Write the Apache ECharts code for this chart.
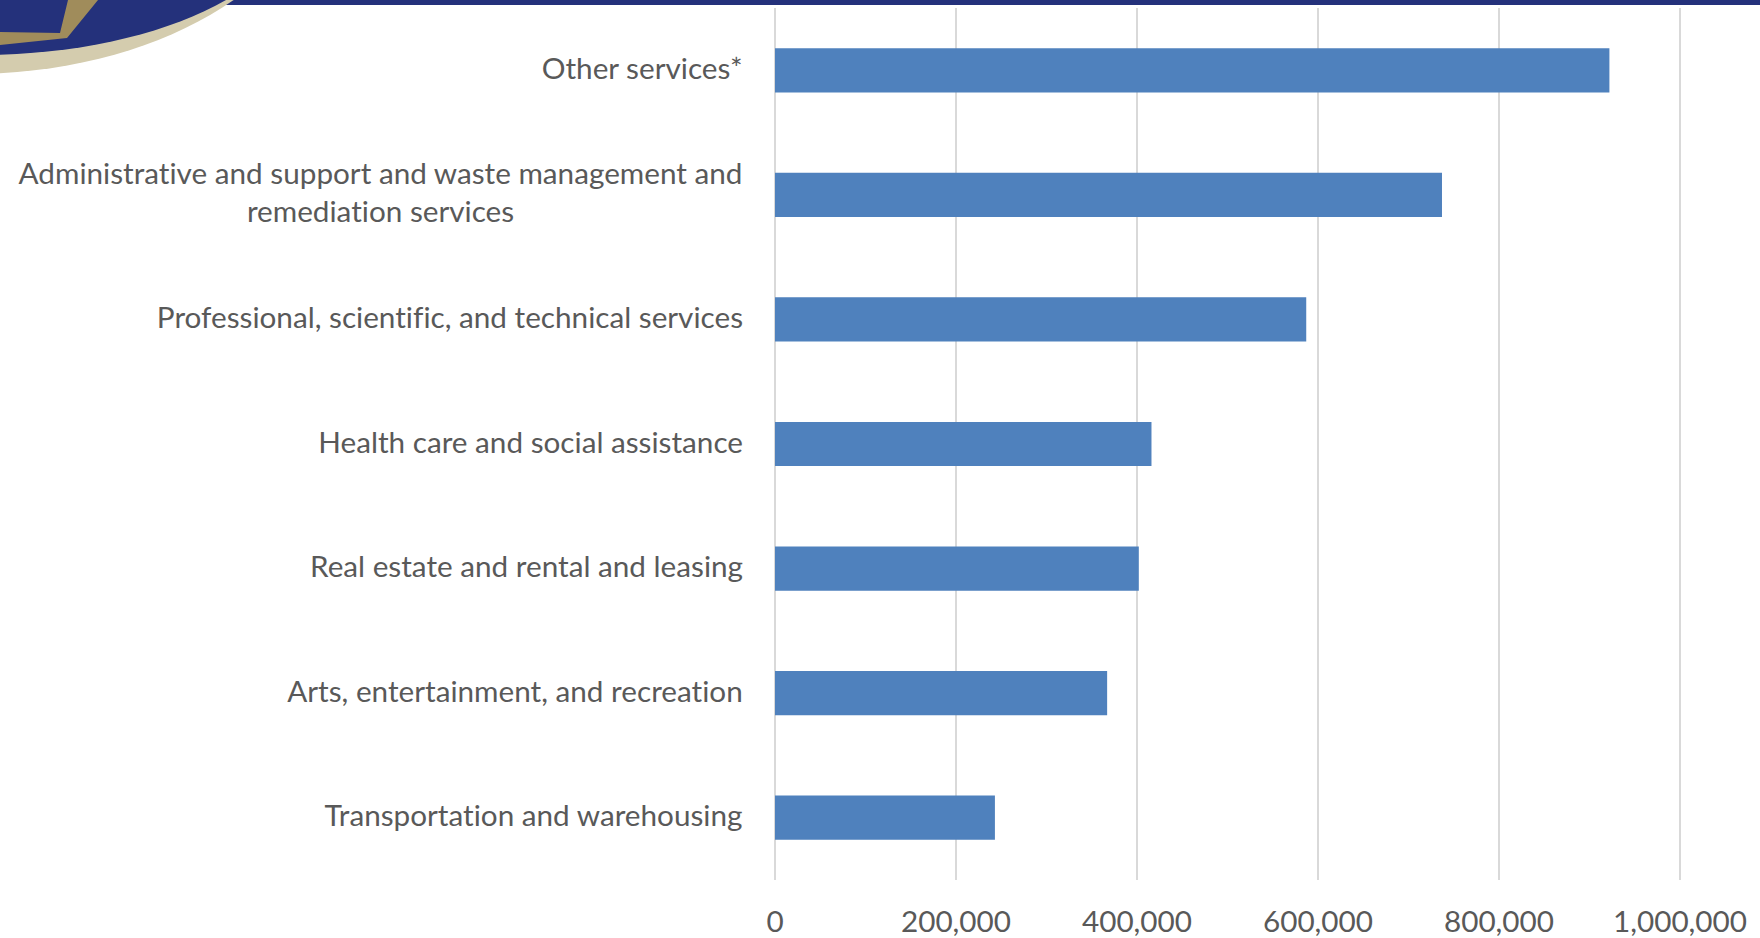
<!DOCTYPE html>
<html>
<head>
<meta charset="utf-8">
<script src="https://cdn.jsdelivr.net/npm/echarts@6/dist/echarts.min.js"></script>
<style>
html,body{margin:0;padding:0;background:#fff;}
#chart{width:1760px;height:938px;}
#chart text{font-variant-ligatures:none !important;}
</style>
</head>
<body>
<div id="chart"></div>
<script>
const categories = [
  "Other services*",
  "Administrative and support and waste management and\nremediation services",
  "Professional, scientific, and technical services",
  "Health care and social assistance",
  "Real estate and rental and leasing",
  "Arts, entertainment, and recreation",
  "Transportation and warehousing"
];
const values = [922000, 737000, 587000, 416000, 402000, 367000, 243000];
const xTicks = { min: 0, max: 1000000, interval: 200000 };

const FONT = 'Lato, "Open Sans", sans-serif';
const FS = 29.7;
const chart = echarts.init(document.getElementById('chart'), null, { renderer: 'svg' });
chart.setOption({
  animation: false,
  backgroundColor: '#ffffff',
  grid: { left: 775, right: 80, top: 8, bottom: 58, containLabel: false },
  xAxis: {
    type: 'value',
    min: xTicks.min, max: xTicks.max, interval: xTicks.interval,
    axisLine: { show: false },
    axisTick: { show: false },
    splitLine: { show: true, lineStyle: { color: '#d9d9d9', width: 2 } },
    axisLabel: {
      color: '#595959', fontFamily: FONT, fontSize: FS, margin: 25,
      formatter: v => v.toLocaleString('en-US')
    }
  },
  yAxis: {
    type: 'category',
    inverse: true,
    data: categories,
    axisLine: { show: false },
    axisTick: { show: false },
    splitLine: { show: false },
    axisLabel: {
      color: '#595959', fontFamily: FONT, fontSize: FS, margin: 32, lineHeight: 38,
      padding: [0, 0, 6, 0],
      formatter: v => v.split('\n').map(s => '{c|' + s + '}').join('\n'),
      rich: { c: { align: 'center', color: '#595959', fontFamily: FONT, fontSize: FS, lineHeight: 38 } }
    }
  },
  series: [{
    type: 'bar',
    data: values,
    barWidth: '35.5%',
    itemStyle: { color: '#4f81bd' }
  }],
  graphic: [
    { type: 'rect', shape: { x: 150, y: 0, width: 1610, height: 5 }, style: { fill: '#24317b' }, z: 100 },
    { type: 'ellipse', shape: { cx: -30, cy: -150, rx: 355, ry: 224 }, style: { fill: '#d4ccae' }, z: 101 },
    { type: 'ellipse', shape: { cx: -20, cy: -100, rx: 322, ry: 155 }, style: { fill: '#24317b' }, z: 102 },
    { type: 'polygon', shape: { points: [[0,32],[60,33],[68,0],[98,0],[67,38],[0,45]] }, style: { fill: '#a08c5b' }, z: 103 }
  ]
});
</script>
</body>
</html>
